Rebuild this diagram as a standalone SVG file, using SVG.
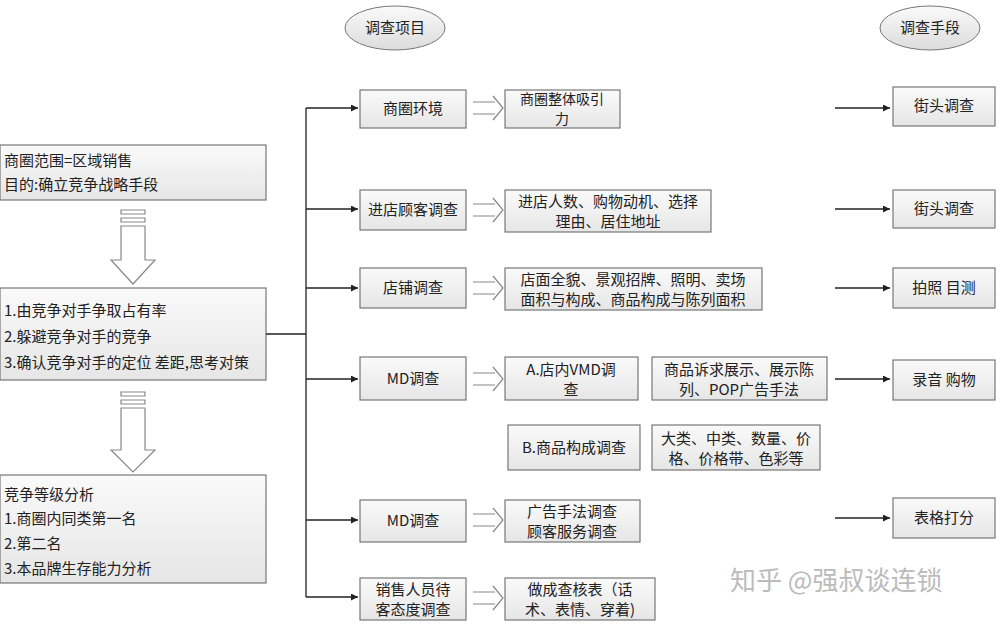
<svg xmlns="http://www.w3.org/2000/svg" width="1000" height="626" viewBox="0 0 1000 626">
<style>
text{font-family:"Noto Sans CJK SC","Liberation Sans",sans-serif;font-size:15px;fill:#222}
.b{fill:url(#g);stroke:#777;stroke-width:1.2}
.l{stroke:#222;stroke-width:1.3;fill:none}
.c{text-anchor:middle}
.h{fill:#fff;stroke:#888;stroke-width:1.2}
</style>
<defs>
<linearGradient id="g" x1="0" y1="0" x2="0" y2="1"><stop offset="0" stop-color="#fafafa"/><stop offset="1" stop-color="#e6e6e6"/></linearGradient>
<linearGradient id="ge" x1="0" y1="0" x2="0" y2="1"><stop offset="0" stop-color="#fafafa"/><stop offset="1" stop-color="#dcdcdc"/></linearGradient>
<marker id="a" viewBox="0 0 10 10" refX="10" refY="5" markerWidth="9" markerHeight="7" orient="auto" markerUnits="userSpaceOnUse"><path d="M0,0L10,5L0,10z" fill="#222"/></marker>
<g id="dbl"><path class="h" d="M0,-6H22M0,6H22M20,-12L30,0L20,12" /></g>
</defs>
<rect width="1000" height="626" fill="#fff"/>
<g id="headers">
<ellipse cx="395" cy="28" rx="50" ry="22" fill="url(#ge)" stroke="#777"/><text class="c" x="395" y="33">调查项目</text>
<ellipse cx="930" cy="28" rx="50" ry="22" fill="url(#ge)" stroke="#777"/><text class="c" x="930" y="33">调查手段</text>
</g>
<g id="left1"><rect class="b" x="0" y="145" width="266" height="55"/><text x="4" y="166">商圈范围=区域销售</text><text x="4" y="190">目的:确立竞争战略手段</text></g>
<g id="left2"><rect class="b" x="0" y="288" width="266" height="92"/><text x="4" y="316">1.由竞争对手争取占有率</text><text x="4" y="342">2.躲避竞争对手的竞争</text><text x="4" y="368">3.确认竞争对手的定位 差距,思考对策</text></g>
<g id="left3"><rect class="b" x="0" y="475" width="266" height="108"/><text x="4" y="500">竞争等级分析</text><text x="4" y="524">1.商圈内同类第一名</text><text x="4" y="549">2.第二名</text><text x="4" y="574">3.本品牌生存能力分析</text></g>
<g id="hollow">
<path class="h" d="M121,210H145V214H121zM121,218H145V222H121zM121,226H145V260H155L133,284L111,260H121z"/>
<path class="h" d="M121,392H145V396H121zM121,400H145V404H121zM121,408H145V450H155L133,472L111,450H121z"/>
</g>
<g id="connectors">
<path class="l" d="M266,334H306M306,108V597"/>
<path class="l" marker-end="url(#a)" d="M306,108H358"/>
<path class="l" marker-end="url(#a)" d="M306,209H358"/>
<path class="l" marker-end="url(#a)" d="M306,288H358"/>
<path class="l" marker-end="url(#a)" d="M306,379H358"/>
<path class="l" marker-end="url(#a)" d="M306,520H358"/>
<path class="l" marker-end="url(#a)" d="M306,597H358"/>
<path class="l" marker-end="url(#a)" d="M835,108H890"/>
<path class="l" marker-end="url(#a)" d="M835,209H890"/>
<path class="l" marker-end="url(#a)" d="M835,288H890"/>
<path class="l" marker-end="url(#a)" d="M835,379H890"/>
<path class="l" marker-end="url(#a)" d="M835,518H890"/>
<use href="#dbl" x="473" y="108"/><use href="#dbl" x="473" y="210"/><use href="#dbl" x="473" y="288"/><use href="#dbl" x="473" y="379"/><use href="#dbl" x="473" y="520"/><use href="#dbl" x="473" y="598"/>
</g>
<g id="m1"><rect class="b" x="360" y="90" width="106" height="38"/><text class="c" x="413" y="114">商圈环境</text></g>
<g id="m2"><rect class="b" x="360" y="190" width="106" height="40"/><text class="c" x="413" y="215">进店顾客调查</text></g>
<g id="m3"><rect class="b" x="360" y="268" width="106" height="40"/><text class="c" x="413" y="293">店铺调查</text></g>
<g id="m4"><rect class="b" x="360" y="357" width="106" height="43"/><text class="c" x="413" y="384">MD调查</text></g>
<g id="m5"><rect class="b" x="360" y="500" width="106" height="42"/><text class="c" x="413" y="526">MD调查</text></g>
<g id="m6"><rect class="b" x="360" y="578" width="106" height="42"/><text class="c" x="413" y="595">销售人员待</text><text class="c" x="413" y="615">客态度调查</text></g>
<g id="d1"><rect class="b" x="505" y="90" width="115" height="38"/><text class="c" x="562" y="104" style="font-size:14px">商圈整体吸引</text><text class="c" x="562" y="124" style="font-size:14px">力</text></g>
<g id="d2"><rect class="b" x="505" y="190" width="206" height="42"/><text class="c" x="608" y="207">进店人数、购物动机、选择</text><text class="c" x="608" y="227">理由、居住地址</text></g>
<g id="d3"><rect class="b" x="505" y="268" width="257" height="42"/><text class="c" x="633" y="285">店面全貌、景观招牌、照明、卖场</text><text class="c" x="633" y="305">面积与构成、商品构成与陈列面积</text></g>
<g id="d4"><rect class="b" x="505" y="357" width="133" height="43"/><text class="c" x="571" y="375">A.店内VMD调</text><text class="c" x="571" y="395">查</text></g>
<g id="d5"><rect class="b" x="652" y="357" width="175" height="43"/><text class="c" x="739" y="375">商品诉求展示、展示陈</text><text class="c" x="739" y="395">列、POP广告手法</text></g>
<g id="d6"><rect class="b" x="508" y="425" width="132" height="45"/><text class="c" x="574" y="453">B.商品构成调查</text></g>
<g id="d7"><rect class="b" x="652" y="425" width="168" height="45"/><text class="c" x="736" y="444">大类、中类、数量、价</text><text class="c" x="736" y="464">格、价格带、色彩等</text></g>
<g id="d8"><rect class="b" x="505" y="500" width="135" height="42"/><text class="c" x="572" y="517">广告手法调查</text><text class="c" x="572" y="537">顾客服务调查</text></g>
<g id="d9"><rect class="b" x="505" y="578" width="150" height="42"/><text class="c" x="580" y="595">做成查核表（话</text><text class="c" x="580" y="615">术、表情、穿着)</text></g>
<g id="r1"><rect class="b" x="893" y="87" width="102" height="39"/><text class="c" x="944" y="111">街头调查</text></g>
<g id="r2"><rect class="b" x="893" y="190" width="102" height="38"/><text class="c" x="944" y="214">街头调查</text></g>
<g id="r3"><rect class="b" x="893" y="268" width="102" height="40"/><text class="c" x="944" y="293">拍照 目测</text></g>
<g id="r4"><rect class="b" x="893" y="360" width="102" height="40"/><text class="c" x="944" y="385">录音 购物</text></g>
<g id="r5"><rect class="b" x="893" y="498" width="102" height="40"/><text class="c" x="944" y="523">表格打分</text></g>
<text x="730" y="590" style="font-size:26px;fill:#bbb">知乎 @强叔谈连锁</text>
</svg>
